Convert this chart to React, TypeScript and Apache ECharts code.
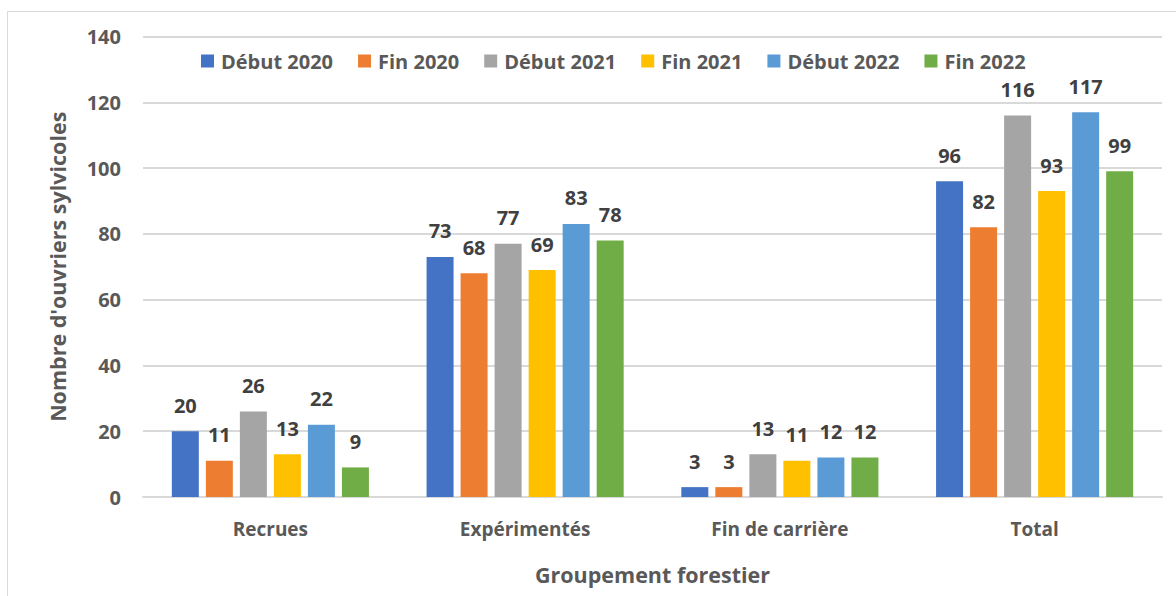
import React, { useEffect, useRef } from "react";
import * as echarts from "echarts";

const categories = ["Recrues", "Expérimentés", "Fin de carrière", "Total"];
const seriesNames = ["Début 2020", "Fin 2020", "Début 2021", "Fin 2021", "Début 2022", "Fin 2022"];
const debut2020 = [20, 73, 3, 96];
const fin2020 = [11, 68, 3, 82];
const debut2021 = [26, 77, 13, 116];
const fin2021 = [13, 69, 11, 93];
const debut2022 = [22, 83, 12, 117];
const fin2022 = [9, 78, 12, 99];
const colors = ["#4472C4", "#ED7D31", "#A5A5A5", "#FFC000", "#5B9BD5", "#70AD47"];

const FONT = "'Open Sans', sans-serif";

export default function App() {
  const ref = useRef<HTMLDivElement>(null);
  useEffect(() => {
    const chart = echarts.init(ref.current!, null, { renderer: "svg" });
    const values = [debut2020, fin2020, debut2021, fin2021, debut2022, fin2022];
    chart.setOption({
      animation: false,
      textStyle: { fontFamily: FONT },
      graphic: [
        {
          type: "rect",
          shape: { x: 7.5, y: 11.5, width: 1200, height: 700 },
          style: { fill: "none", stroke: "#d9d9d9", lineWidth: 1 },
          silent: true,
        },
      ],
      legend: {
        left: 196,
        top: 46,
        itemWidth: 13,
        itemHeight: 13,
        itemGap: 25,
        icon: "rect",
        textStyle: { fontFamily: FONT, fontWeight: "bold", fontSize: 20, color: "#595959", padding: [0, 0, 0, 2] },
        data: seriesNames,
      },
      grid: { left: 143, right: 14, top: 36.5, bottom: 99, containLabel: false },
      xAxis: {
        type: "category",
        data: categories,
        name: "Groupement forestier",
        nameLocation: "middle",
        nameGap: 66,
        nameTextStyle: { fontFamily: FONT, fontWeight: "bold", fontSize: 21.5, color: "#595959" },
        axisLine: { show: true, lineStyle: { color: "#d9d9d9", width: 2 } },
        axisTick: { show: false },
        axisLabel: { fontFamily: FONT, fontWeight: "bold", fontSize: 19, color: "#595959", margin: 22 },
      },
      yAxis: {
        type: "value",
        min: 0,
        max: 140,
        interval: 20,
        name: "Nombre d'ouvriers sylvicoles",
        nameLocation: "middle",
        nameGap: 75,
        nameTextStyle: { fontFamily: FONT, fontWeight: "bold", fontSize: 21.5, color: "#595959" },
        axisLine: { show: false },
        axisTick: { show: false },
        axisLabel: { fontFamily: FONT, fontWeight: "bold", fontSize: 20, color: "#595959", margin: 22 },
        splitLine: { lineStyle: { color: "#d9d9d9", width: 2 } },
      },
      series: seriesNames.map((name, i) => ({
        name,
        type: "bar",
        data: values[i],
        barWidth: 27,
        barGap: "26%",
        itemStyle: { color: colors[i] },
        label: {
          show: true,
          position: "top",
          distance: 16,
          fontFamily: FONT,
          fontWeight: "bold",
          fontSize: 20,
          color: "#404040",
        },
      })),
    });
    return () => chart.dispose();
  }, []);
  return (
    <div
      ref={ref}
      style={{ position: "fixed", left: 0, top: 0, width: 1176, height: 596, background: "#fff" }}
    />
  );
}
